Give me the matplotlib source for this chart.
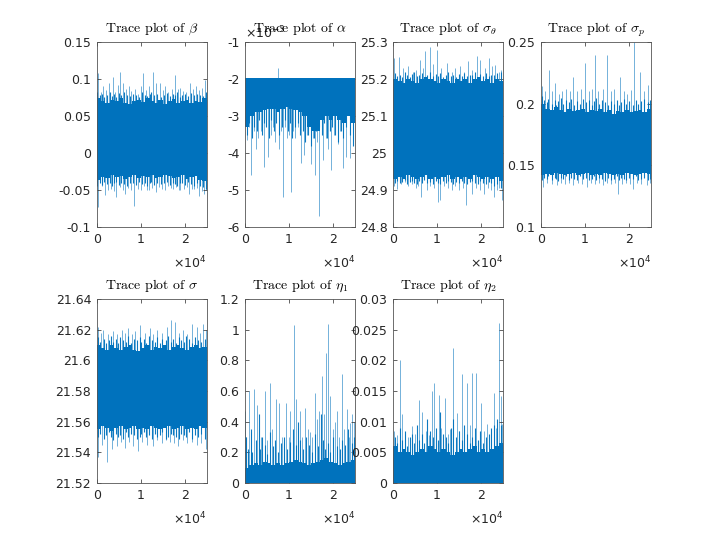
import numpy as np
import matplotlib.pyplot as plt

# ---- data (iteration, value) ----
n_iter = 25000
bin_w = 1000  # width of the bins used for the dense core of each trace

# iterations of the medium-height spikes that make the edge of each band ragged
mid_x_a = [150, 700, 1250, 1700, 2450, 3100, 3400, 3900, 4500, 5000, 5600, 6300, 6900, 7600, 8200, 8900, 9600,
           10300, 10900, 11500, 12100, 12400, 13100, 13800, 14600, 15300, 15900, 16600, 17300, 17700, 18200,
           18900, 19400, 20100, 20800, 21500, 22100, 22800, 23500, 24200, 24850]
mid_x_b = [400, 850, 1550, 2050, 2700, 3250, 3800, 4300, 4750, 5400, 5950, 6550, 7150, 7800, 8450, 9050, 9750,
           10150, 10750, 11300, 11950, 12550, 13250, 13650, 14350, 14950, 15650, 16150, 16850, 17450, 18050,
           18650, 19250, 19850, 20350, 21050, 21750, 22350, 23050, 23750, 24600]

# beta
beta_core_hi = [0.075, 0.07, 0.068, 0.072, 0.07, 0.074, 0.068, 0.066, 0.07, 0.072, 0.069, 0.075, 0.07,
                0.068, 0.071, 0.066, 0.07, 0.073, 0.068, 0.07, 0.072, 0.067, 0.07, 0.069, 0.074]
beta_core_lo = [-0.036, -0.032, -0.034, -0.03, -0.033, -0.031, -0.035, -0.032, -0.03, -0.034, -0.031, -0.033, -0.03,
                -0.034, -0.032, -0.03, -0.031, -0.034, -0.032, -0.03, -0.035, -0.033, -0.031, -0.036, -0.038]
beta_mid_hi = [0.082, 0.078, 0.08, 0.076, 0.079, 0.083, 0.077, 0.08, 0.076, 0.081, 0.078, 0.082, 0.079, 0.077,
               0.08, 0.078, 0.076, 0.082, 0.079, 0.077, 0.08, 0.083, 0.078, 0.08, 0.076, 0.079, 0.081, 0.077, 0.08,
               0.078, 0.082, 0.076, 0.079, 0.08, 0.077, 0.081, 0.078, 0.08, 0.079, 0.077, 0.083]
beta_mid_lo = [-0.045, -0.041, -0.043, -0.039, -0.042, -0.04, -0.044, -0.041, -0.039, -0.043, -0.04, -0.042, -0.045,
               -0.04, -0.041, -0.043, -0.039, -0.042, -0.04, -0.044, -0.041, -0.039, -0.043, -0.04, -0.042, -0.041,
               -0.039, -0.043, -0.04, -0.042, -0.044, -0.04, -0.041, -0.043, -0.039, -0.042, -0.045, -0.041,
               -0.044, -0.046, -0.048]
beta_spk_x = [380, 1000, 1500, 2200, 2900, 3640, 4200, 4800, 5300, 6000, 6600, 7300, 7900, 8600, 9300, 10000,
              10600, 11200, 11900, 12700, 13500, 14400, 15000, 15500, 16300, 17000, 17800, 18400, 19000, 19700,
              20400, 21200, 21800, 22500, 23200, 23900, 24600,
              380, 1100, 1900, 2600, 3300, 4000, 4500, 5200, 5900, 6500, 7200, 7900, 8560, 9300, 10000, 10700,
              11400, 11800, 12500, 13500, 14200, 14900, 15500, 16200, 16900, 17300, 18000, 18700, 19000, 19800,
              20500, 21000, 21700, 22000, 22700, 23300, 24000, 24300, 24900]
beta_spk_y = [0.108, 0.083, 0.09, 0.085, 0.095, 0.103, 0.082, 0.092, 0.11, 0.095, 0.086, 0.09, 0.084, 0.086, 0.08,
              0.09, 0.108, 0.085, 0.09, 0.109, 0.095, 0.094, 0.085, 0.09, 0.083, 0.087, 0.105, 0.086, 0.088, 0.084,
              0.083, 0.094, 0.086, 0.09, 0.085, 0.088, 0.099,
              -0.073, -0.045, -0.057, -0.05, -0.048, -0.052, -0.059, -0.046, -0.05, -0.055, -0.047, -0.05, -0.072,
              -0.048, -0.05, -0.045, -0.05, -0.05, -0.047, -0.053, -0.046, -0.048, -0.05, -0.044, -0.047, -0.048,
              -0.046, -0.05, -0.05, -0.049, -0.046, -0.055, -0.048, -0.048, -0.047, -0.058, -0.052, -0.056, -0.05]

# alpha (values in units of 1e-3)
alpha_core_hi = [-1.97] * 25
alpha_core_lo = [-3.3, -3.0, -2.9, -2.9, -2.85, -2.8, -2.8, -2.9, -2.8, -2.75, -2.8, -2.85, -2.9, -3.0, -3.3,
                 -3.4, -3.4, -3.1, -3.0, -3.1, -3.0, -3.1, -3.2, -3.0, -3.2]
alpha_mid_hi = [-1.97] * 41
alpha_mid_lo = [-3.5, -3.2, -3.6, -3.3, -3.4, -3.1, -3.5, -3.2, -3.3, -3.6, -3.1, -3.4, -3.2, -3.5, -3.3, -3.1,
                -3.4, -3.2, -3.6, -3.3, -3.2, -3.5, -3.4, -3.7, -3.5, -3.8, -3.6, -3.4, -3.3, -3.5, -3.2, -3.6,
                -3.4, -3.3, -3.5, -3.7, -3.4, -3.6, -3.3, -3.5, -3.8]
alpha_spk_x = [380, 900, 1380, 2000, 2520, 3060, 3700, 4360, 5120, 5800, 6300, 6880, 7400, 7650, 8200, 8640,
               9100, 9560, 10000, 10470, 11000, 11470, 12000, 12610, 13380, 14000, 14900, 15400, 15830, 16400,
               16900, 17660, 18300, 18880, 19500, 20200, 21020, 21600, 22170, 22940, 23770, 24460, 24900]
alpha_spk_y = [-3.65, -3.3, -4.6, -3.4, -3.9, -3.6, -3.4, -4.37, -4.1, -3.5, -3.3, -3.7, -1.71, -3.9, -3.4, -5.19,
               -3.3, -3.6, -3.5, -5.05, -3.4, -3.6, -3.3, -4.28, -4.05, -3.5, -4.3, -3.6, -4.6, -3.7, -5.69, -4.2,
               -3.6, -3.9, -4.45, -3.5, -3.75, -3.4, -4.4, -4.1, -4.14, -3.65, -3.5]

# sigma_theta
sth_core_hi = [25.2, 25.195, 25.19, 25.2, 25.195, 25.19, 25.2, 25.205, 25.2, 25.195, 25.19, 25.2, 25.195, 25.19,
               25.2, 25.195, 25.2, 25.19, 25.2, 25.205, 25.195, 25.2, 25.19, 25.2, 25.195]
sth_core_lo = [24.93, 24.935, 24.93, 24.94, 24.935, 24.93, 24.935, 24.94, 24.93, 24.935, 24.93, 24.935, 24.94,
               24.93, 24.935, 24.93, 24.935, 24.93, 24.94, 24.935, 24.93, 24.935, 24.93, 24.935, 24.925]
sth_mid_hi = [25.215, 25.208, 25.212, 25.205, 25.218, 25.21, 25.206, 25.214, 25.22, 25.208, 25.212, 25.216,
              25.205, 25.21, 25.218, 25.207, 25.213, 25.209, 25.215, 25.206, 25.212, 25.218, 25.208, 25.211, 25.205,
              25.214, 25.209, 25.216, 25.207, 25.212, 25.21, 25.218, 25.206, 25.213, 25.209, 25.215, 25.207, 25.212,
              25.21, 25.216, 25.22]
sth_mid_lo = [24.92, 24.925, 24.918, 24.922, 24.926, 24.917, 24.921, 24.924, 24.919, 24.915, 24.923, 24.92, 24.926,
              24.918, 24.922, 24.916, 24.924, 24.92, 24.917, 24.923, 24.919, 24.925, 24.921, 24.916, 24.922, 24.918,
              24.924, 24.92, 24.915, 24.921, 24.925, 24.919, 24.917, 24.923, 24.92, 24.916, 24.922, 24.918, 24.91,
              24.915, 24.905]
sth_spk_x = [230, 1370, 2300, 3430, 4500, 5300, 6100, 6800, 7390, 8380, 9100, 9910, 11000, 12200, 13300, 14200,
             15240, 16100, 16990, 18000, 19050, 19820, 20800, 21720, 22500, 23250, 24000, 24620,
             300, 900, 1800, 2670, 3500, 4300, 5200, 5800, 6480, 7620, 8500, 9400, 10290, 10670, 11500, 12400,
             13340, 14200, 15000, 15800, 16540, 17910, 18800, 19700, 20580, 21500, 22200, 22870, 23600, 24200, 24770]
sth_spk_y = [25.257, 25.26, 25.23, 25.234, 25.22, 25.225, 25.252, 25.23, 25.275, 25.286, 25.24, 25.279, 25.23,
             25.243, 25.22, 25.23, 25.234, 25.22, 25.248, 25.225, 25.261, 25.252, 25.23, 25.257, 25.235, 25.238,
             25.22, 25.225,
             24.91, 24.904, 24.915, 24.922, 24.91, 24.915, 24.905, 24.91, 24.881, 24.9, 24.91, 24.905, 24.868,
             24.872, 24.91, 24.905, 24.9, 24.91, 24.9, 24.905, 24.859, 24.89, 24.905, 24.9, 24.89, 24.905, 24.9,
             24.881, 24.9, 24.905, 24.872]

# sigma_p
sp_core_hi = [0.2, 0.196, 0.195, 0.197, 0.195, 0.193, 0.196, 0.194, 0.195, 0.196, 0.193, 0.195, 0.194, 0.196,
              0.193, 0.195, 0.192, 0.194, 0.193, 0.195, 0.193, 0.194, 0.195, 0.193, 0.196]
sp_core_lo = [0.142, 0.143, 0.142, 0.144, 0.143, 0.142, 0.143, 0.144, 0.142, 0.143, 0.144, 0.142, 0.143, 0.142,
              0.144, 0.143, 0.142, 0.143, 0.142, 0.144, 0.143, 0.142, 0.143, 0.144, 0.143]
sp_mid_hi = [0.206, 0.203, 0.201, 0.204, 0.2, 0.203, 0.199, 0.202, 0.205, 0.2, 0.203, 0.201, 0.204, 0.199, 0.202,
             0.2, 0.204, 0.201, 0.203, 0.199, 0.202, 0.205, 0.2, 0.203, 0.201, 0.199, 0.202, 0.2, 0.203, 0.199,
             0.201, 0.204, 0.2, 0.202, 0.199, 0.203, 0.2, 0.202, 0.204, 0.201, 0.203]
sp_mid_lo = [0.138, 0.14, 0.139, 0.141, 0.138, 0.14, 0.139, 0.137, 0.14, 0.139, 0.141, 0.138, 0.14, 0.139, 0.138,
             0.141, 0.139, 0.14, 0.138, 0.139, 0.141, 0.138, 0.14, 0.139, 0.137, 0.14, 0.138, 0.139, 0.141, 0.138,
             0.14, 0.139, 0.138, 0.14, 0.139, 0.141, 0.138, 0.139, 0.14, 0.138, 0.139]
sp_spk_x = [300, 1000, 1820, 2500, 3180, 4000, 4800, 5600, 6500, 7350, 8200, 9000, 10000, 10800, 11500, 12270,
            13000, 14000, 14920, 15800, 16700, 17950, 18800, 19600, 20400, 21140, 22500, 23300, 24390, 24900,
            530, 1400, 2400, 3560, 4500, 5500, 6400, 7350, 8300, 9300, 10380, 11300, 12300, 13200, 14170, 15000,
            15900, 16800, 17580, 18500, 19400, 20200, 20980, 21900, 22800, 24010, 24800]
sp_spk_y = [0.214, 0.21, 0.2275, 0.21, 0.217, 0.208, 0.21, 0.212, 0.21, 0.222, 0.21, 0.212, 0.233, 0.21, 0.212,
            0.2397, 0.21, 0.212, 0.2397, 0.21, 0.212, 0.222, 0.21, 0.208, 0.211, 0.25, 0.226, 0.21, 0.215, 0.208,
            0.1326, 0.136, 0.135, 0.134, 0.136, 0.135, 0.136, 0.134, 0.136, 0.135, 0.1326, 0.136, 0.135, 0.136,
            0.134, 0.136, 0.135, 0.136, 0.127, 0.135, 0.136, 0.135, 0.131, 0.136, 0.135, 0.134, 0.136]

# sigma
sig_core_hi = [21.61, 21.608, 21.607, 21.61, 21.608, 21.607, 21.609, 21.61, 21.607, 21.606, 21.608, 21.61, 21.607,
               21.609, 21.608, 21.61, 21.607, 21.609, 21.61, 21.608, 21.607, 21.609, 21.61, 21.608, 21.609]
sig_core_lo = [21.555, 21.557, 21.556, 21.554, 21.556, 21.557, 21.555, 21.556, 21.557, 21.555, 21.556, 21.555,
               21.557, 21.556, 21.555, 21.556, 21.557, 21.555, 21.556, 21.557, 21.555, 21.556, 21.555, 21.557, 21.556]
sig_mid_hi = [21.615, 21.612, 21.614, 21.611, 21.613, 21.616, 21.612, 21.614, 21.611, 21.615, 21.613, 21.612,
              21.616, 21.611, 21.614, 21.613, 21.615, 21.612, 21.614, 21.611, 21.616, 21.613, 21.612, 21.615, 21.611,
              21.614, 21.613, 21.616, 21.612, 21.614, 21.611, 21.615, 21.613, 21.612, 21.616, 21.614, 21.611, 21.615,
              21.613, 21.612, 21.614]
sig_mid_lo = [21.55, 21.552, 21.549, 21.551, 21.553, 21.55, 21.548, 21.552, 21.55, 21.551, 21.549, 21.553, 21.55,
              21.552, 21.551, 21.549, 21.55, 21.552, 21.553, 21.55, 21.551, 21.549, 21.552, 21.55, 21.551, 21.553,
              21.549, 21.55, 21.552, 21.551, 21.55, 21.549, 21.552, 21.551, 21.55, 21.553, 21.549, 21.551, 21.55,
              21.552, 21.549]
sig_spk_x = [380, 1000, 1520, 2500, 3790, 4700, 5680, 6400, 7200, 8000, 8710, 9850, 11000, 12120, 12900, 13640,
             14800, 15900, 16820, 17800, 18700, 19700, 20600, 21590, 22730, 23500, 24240, 24900,
             380, 1300, 2270, 3410, 4550, 5500, 6440, 7400, 8330, 9470, 10400, 11360, 12880, 13800, 14770, 15700,
             16670, 17600, 18560, 19500, 20450, 21600, 22730, 23800, 24850]
sig_spk_y = [21.622, 21.618, 21.62, 21.617, 21.619, 21.617, 21.62, 21.618, 21.621, 21.617, 21.619, 21.623, 21.618,
             21.621, 21.617, 21.62, 21.618, 21.622, 21.6265, 21.625, 21.618, 21.62, 21.617, 21.624, 21.622, 21.618,
             21.624, 21.62,
             21.537, 21.545, 21.5335, 21.542, 21.544, 21.547, 21.543, 21.547, 21.544, 21.541, 21.547, 21.545,
             21.544, 21.548, 21.546, 21.548, 21.547, 21.546, 21.544, 21.548, 21.546, 21.547, 21.545, 21.546, 21.542]

# eta_1
eta1_core_hi = [0.1, 0.12, 0.13, 0.12, 0.14, 0.13, 0.12, 0.13, 0.12, 0.13, 0.14, 0.15, 0.14, 0.13, 0.12, 0.13,
                0.14, 0.15, 0.16, 0.14, 0.13, 0.12, 0.13, 0.14, 0.15]
eta1_mid_hi = [0.3, 0.22, 0.35, 0.2, 0.28, 0.45, 0.22, 0.3, 0.25, 0.19, 0.33, 0.24, 0.28, 0.2, 0.26, 0.3, 0.22,
               0.27, 0.35, 0.25, 0.4, 0.28, 0.22, 0.3, 0.25, 0.2, 0.32, 0.24, 0.45, 0.28, 0.22, 0.26, 0.2, 0.3,
               0.24, 0.22, 0.28, 0.25, 0.35, 0.26, 0.3]
eta1_spk_x = [0, 300, 840, 1300, 2140, 2680, 3200, 3700, 4430, 5000, 5580, 6200, 7110, 7720, 8300, 8800, 9400,
              9900, 10320, 11160, 11540, 12000, 12460, 13000, 13610, 14200, 14800, 15300, 15900, 16400, 16900,
              17430, 17900, 18420, 18810, 19350, 19900, 20400, 20870, 21400, 22020, 22500, 23170, 23600, 23930,
              24400, 24700]
eta1_spk_y = [0.47, 0.3, 0.6, 0.33, 0.61, 0.51, 0.35, 0.3, 0.6, 0.28, 0.654, 0.35, 0.546, 0.52, 0.3, 0.27, 0.52,
              0.3, 0.47, 1.028, 0.55, 0.36, 0.47, 0.3, 0.49, 0.35, 0.33, 0.3, 0.59, 0.42, 0.47, 0.70, 0.45, 0.845,
              1.035, 0.567, 0.35, 0.4, 0.47, 0.3, 0.709, 0.35, 0.48, 0.3, 0.39, 0.45, 0.40]

# eta_2
eta2_core_hi = [0.006, 0.005, 0.0055, 0.005, 0.0045, 0.005, 0.0055, 0.005, 0.006, 0.0055, 0.005, 0.0055, 0.005,
                0.0045, 0.005, 0.0055, 0.005, 0.0055, 0.006, 0.005, 0.0055, 0.005, 0.0055, 0.006, 0.0065]
eta2_mid_hi = [0.0075, 0.0065, 0.009, 0.007, 0.0085, 0.006, 0.0075, 0.008, 0.0065, 0.0095, 0.007, 0.008, 0.0065,
               0.0105, 0.0085, 0.0075, 0.009, 0.007, 0.0115, 0.008, 0.0075, 0.0065, 0.009, 0.0105, 0.0075, 0.0085,
               0.007, 0.0095, 0.008, 0.0065, 0.0075, 0.009, 0.007, 0.0085, 0.0065, 0.0075, 0.008, 0.009, 0.0095,
               0.0105, 0.0095]
eta2_spk_x = [300, 985, 1515, 2120, 2800, 3500, 4390, 5100, 5900, 6670, 7400, 8200, 8940, 9320, 10450, 11000,
              11740, 12400, 12950, 13710, 14470, 15100, 15760, 16740, 17400, 18030, 18940, 19920, 20700, 21440,
              22200, 22950, 23500, 24090, 24470, 24850]
eta2_spk_y = [0.0085, 0.0079, 0.0201, 0.0112, 0.008, 0.0075, 0.0093, 0.008, 0.0135, 0.0115, 0.0085, 0.0078,
              0.015, 0.01625, 0.0143, 0.009, 0.0139, 0.008, 0.0088, 0.02196, 0.0114, 0.0085, 0.0177, 0.01625,
              0.0095, 0.018, 0.0179, 0.0131, 0.0085, 0.0096, 0.0088, 0.0147, 0.009, 0.0261, 0.0142, 0.0096]

titles = [r'Trace plot of $\beta$', r'Trace plot of $\alpha$', r'Trace plot of $\sigma_\theta$',
          r'Trace plot of $\sigma_p$', r'Trace plot of $\sigma$', r'Trace plot of $\eta_1$',
          r'Trace plot of $\eta_2$']
ylims = [(-0.1, 0.15), (-6, -1), (24.8, 25.3), (0.1, 0.25), (21.52, 21.64), (0, 1.2), (0, 0.03)]
yticks = [[-0.1, -0.05, 0, 0.05, 0.1, 0.15], [-6, -5, -4, -3, -2, -1], [24.8, 24.9, 25, 25.1, 25.2, 25.3],
          [0.1, 0.15, 0.2, 0.25], [21.52, 21.54, 21.56, 21.58, 21.6, 21.62, 21.64],
          [0, 0.2, 0.4, 0.6, 0.8, 1, 1.2], [0, 0.005, 0.01, 0.015, 0.02, 0.025, 0.03]]
ytick_labels = [['-0.1', '-0.05', '0', '0.05', '0.1', '0.15'], ['-6', '-5', '-4', '-3', '-2', '-1'],
                ['24.8', '24.9', '25', '25.1', '25.2', '25.3'], ['0.1', '0.15', '0.2', '0.25'],
                ['21.52', '21.54', '21.56', '21.58', '21.6', '21.62', '21.64'],
                ['0', '0.2', '0.4', '0.6', '0.8', '1', '1.2'],
                ['0', '0.005', '0.01', '0.015', '0.02', '0.025', '0.03']]

zeros25 = [0.0] * 25
zeros41 = [0.0] * 41
traces = [(beta_core_lo, beta_core_hi, mid_x_a, beta_mid_lo, beta_mid_hi, beta_spk_x, beta_spk_y),
          (alpha_core_lo, alpha_core_hi, mid_x_b, alpha_mid_lo, alpha_mid_hi, alpha_spk_x, alpha_spk_y),
          (sth_core_lo, sth_core_hi, mid_x_b, sth_mid_lo, sth_mid_hi, sth_spk_x, sth_spk_y),
          (sp_core_lo, sp_core_hi, mid_x_a, sp_mid_lo, sp_mid_hi, sp_spk_x, sp_spk_y),
          (sig_core_lo, sig_core_hi, mid_x_b, sig_mid_lo, sig_mid_hi, sig_spk_x, sig_spk_y),
          (zeros25, eta1_core_hi, mid_x_a, zeros41, eta1_mid_hi, eta1_spk_x, eta1_spk_y),
          (zeros25, eta2_core_hi, mid_x_b, zeros41, eta2_mid_hi, eta2_spk_x, eta2_spk_y)]

blue = '#0072BD'
edge = '#262626'
plt.rcParams['font.family'] = 'DejaVu Sans'
plt.rcParams['font.size'] = 9

fig = plt.figure(figsize=(7.2, 5.45), dpi=100)
lefts = [0.1343, 0.3403, 0.5458, 0.7514]
w = 0.1528
rows = [(0.5835, 0.3394), (0.1138, 0.3376)]

for i in range(7):
    r, c = divmod(i, 4)
    ax = fig.add_axes([lefts[c], rows[r][0], w, rows[r][1]])
    lo, hi, mx, mlo, mhi, sx, sy = traces[i]
    edges = np.arange(len(hi) + 1) * bin_w
    ax.fill_between(edges, list(lo) + [lo[-1]], list(hi) + [hi[-1]], step='post',
                    color=blue, lw=0, zorder=3)
    ax.vlines(mx, mlo, mhi, colors=blue, lw=0.8, alpha=0.95, zorder=2)
    base = (np.mean(lo) + np.mean(hi)) / 2
    ax.vlines(sx, base, sy, colors=blue, lw=0.7, alpha=0.55, zorder=1)

    ax.set_xlim(0, n_iter)
    ax.set_ylim(*ylims[i])
    ax.set_xticks([0, 10000, 20000])
    ax.set_xticklabels(['0', '1', '2'])
    ax.set_yticks(yticks[i])
    ax.set_yticklabels(ytick_labels[i])
    ax.tick_params(direction='in', length=3, width=0.5, top=True, right=True,
                   colors=edge, labelcolor=edge, pad=4)
    for s in ax.spines.values():
        s.set_linewidth(0.6)
        s.set_color('#555555')
        s.set_zorder(5)
    ax.set_title(titles[i], fontsize=10, family='cmr10', math_fontfamily='cm', pad=7, color='black')
    ax.text(1.0, -0.195, r'$\times$10$^4$', transform=ax.transAxes, ha='right', va='center',
            color=edge, math_fontfamily='dejavusans')
    if i == 1:
        # MATLAB puts the exponent at the top-left corner, running into the title
        ax.text(0.0, 1.05, r'$\times$10$^{-3}$', transform=ax.transAxes, ha='left', va='center',
                color=edge, math_fontfamily='dejavusans')

fig.savefig('out.png', dpi=100)
